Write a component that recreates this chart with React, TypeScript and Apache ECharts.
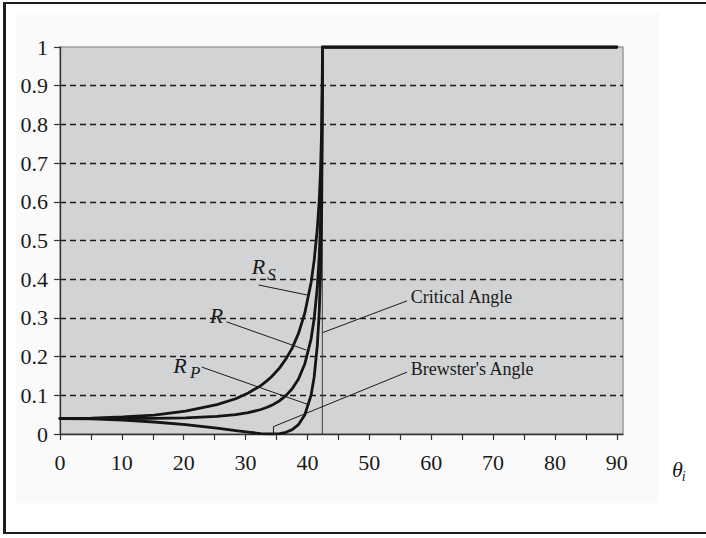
import React, { useEffect, useRef } from "react";
import * as echarts from "echarts";

// Angle of incidence (degrees)
const angle = [0, 5.07, 10.14, 15.22, 20.29, 25.36, 28.4, 30.43, 32.46, 33.48, 34.18, 34.49, 35.5, 36.52, 37.53, 38.55, 39.56, 40.58, 41.08, 41.59, 41.9, 42.1, 42.3, 42.4, 42.42, 90];
// Reflectances
const rsValues = [0.04, 0.041, 0.044, 0.049, 0.059, 0.076, 0.091, 0.106, 0.125, 0.138, 0.148, 0.153, 0.171, 0.194, 0.222, 0.26, 0.312, 0.391, 0.448, 0.531, 0.604, 0.675, 0.791, 0.93, 1, 1];
const rpValues = [0.04, 0.039, 0.036, 0.031, 0.024, 0.015, 0.0087, 0.0046, 0.0012, 0.0002, 0, 0.0001, 0.0012, 0.0045, 0.0113, 0.0243, 0.049, 0.1, 0.147, 0.229, 0.314, 0.408, 0.588, 0.85, 1, 1];
const rValues = [0.04, 0.04, 0.04, 0.0405, 0.0417, 0.0453, 0.05, 0.0552, 0.0633, 0.0691, 0.074, 0.0765, 0.0861, 0.0991, 0.1168, 0.1422, 0.1807, 0.2453, 0.2977, 0.3798, 0.4593, 0.5416, 0.6897, 0.8898, 1, 1];

const criticalAngle = 42.4;
const criticalLine = [0, 1];

const xTicks = [0, 5, 10, 15, 20, 25, 30, 35, 40, 45, 50, 55, 60, 65, 70, 75, 80, 85, 90];
const xTickLabels = [0, 10, 20, 30, 40, 50, 60, 70, 80, 90];

const SERIF = '"Liberation Serif", "Times New Roman", serif';

function pairs(xs: number[], ys: number[]) {
  return xs.map((x, i) => [x, ys[i]]);
}

export default function App() {
  const ref = useRef<HTMLDivElement>(null);

  useEffect(() => {
    if (!ref.current) return;
    const chart = echarts.init(ref.current, null, { renderer: "svg" });
    const curveStyle = { color: "#151515", width: 2.8, cap: "round" as const, join: "round" as const };
    chart.setOption({
      animation: false,
      backgroundColor: "transparent",
      grid: {
        left: 60,
        top: 47,
        width: 563,
        height: 387,
        show: true,
        backgroundColor: "#d1d3d4",
        borderColor: "#9c9c9c",
        borderWidth: 1.5,
      },
      xAxis: {
        type: "value",
        min: 0,
        max: 91,
        axisLine: { lineStyle: { color: "#333", width: 1.3 } },
        axisTick: { show: true, length: 6, customValues: xTicks, lineStyle: { color: "#333", width: 1.2 } },
        axisLabel: {
          customValues: xTickLabels,
          margin: 17,
          fontFamily: SERIF,
          fontSize: 22,
          color: "#1a1a1a",
        },
        splitLine: { show: false },
      },
      yAxis: {
        type: "value",
        min: 0,
        max: 1,
        interval: 0.1,
        axisLine: { show: true, lineStyle: { color: "#333", width: 1.3 } },
        axisTick: { show: true, length: 6, lineStyle: { color: "#333", width: 1.2 } },
        axisLabel: {
          margin: 12,
          fontFamily: SERIF,
          fontSize: 22,
          color: "#1a1a1a",
          formatter: (v: number) => String(Math.round(v * 10) / 10),
        },
        splitLine: {
          show: true,
          showMinLine: false,
          showMaxLine: false,
          lineStyle: { color: "#1a1a1a", width: 1.3, type: [6, 4] },
        },
      },
      series: [
        {
          name: "Critical",
          type: "line",
          data: criticalLine.map((v) => [criticalAngle, v]),
          symbol: "none",
          lineStyle: { color: "#3a3a3a", width: 1 },
          z: 3,
        },
        { name: "Rs", type: "line", data: pairs(angle, rsValues), symbol: "none", lineStyle: curveStyle, z: 4 },
        { name: "R", type: "line", data: pairs(angle, rValues), symbol: "none", lineStyle: curveStyle, z: 4 },
        { name: "Rp", type: "line", data: pairs(angle, rpValues), symbol: "none", lineStyle: curveStyle, z: 4 },
      ],
    });

    const P = (x: number, y: number) => chart.convertToPixel({ gridIndex: 0 }, [x, y]) as number[];
    const seg = (a: number[], b: number[]) => {
      const p1 = P(a[0], a[1]);
      const p2 = P(b[0], b[1]);
      return {
        type: "line",
        z: 20,
        shape: { x1: p1[0], y1: p1[1], x2: p2[0], y2: p2[1] },
        style: { stroke: "#1a1a1a", lineWidth: 1 },
      };
    };
    const txt = (x: number, y: number, text: string, size: number, italic: boolean) => {
      const p = P(x, y);
      return {
        type: "text",
        z: 20,
        x: p[0],
        y: p[1],
        style: {
          text,
          fontFamily: SERIF,
          fontSize: size,
          fontStyle: italic ? "italic" : "normal",
          fill: "#1a1a1a",
          align: "left",
          verticalAlign: "middle",
        },
      };
    };
    const b1 = P(56.1, 0.16);
    const b2 = P(34.5, 0.019);
    const b3 = P(34.5, 0);

    chart.setOption({
      graphic: [
        seg([32.1, 0.385], [40.0, 0.359]),
        seg([26.9, 0.29], [39.8, 0.217]),
        seg([22.9, 0.173], [40.3, 0.075]),
        seg([56.1, 0.344], [42.45, 0.262]),
        {
          type: "polyline",
          z: 20,
          shape: { points: [b1, b2, b3] },
          style: { stroke: "#1a1a1a", lineWidth: 1, fill: null },
        },
        txt(31.0, 0.434, "R", 22, true),
        txt(33.5, 0.411, "S", 17, true),
        txt(24.2, 0.305, "R", 22, true),
        txt(18.3, 0.178, "R", 22, true),
        txt(21.0, 0.158, "P", 17, true),
        txt(56.7, 0.354, "Critical Angle", 18, false),
        txt(56.7, 0.168, "Brewster's Angle", 18, false),
        txt(98.9, -0.093, "θ", 22, true),
        txt(100.5, -0.111, "i", 14, true),
      ],
    });

    return () => chart.dispose();
  }, []);

  return (
    <div style={{ position: "fixed", left: 0, top: 0, width: 706, height: 538, background: "#fff", overflow: "hidden" }}>
      <div
        style={{
          position: "absolute",
          left: 3,
          top: 2,
          width: 740,
          height: 532,
          boxSizing: "border-box",
          borderLeft: "3px solid #1e1e1e",
          borderTop: "2.5px solid #1e1e1e",
          borderBottom: "2.5px solid #1e1e1e",
        }}
      />
      <div style={{ position: "absolute", left: 16, top: 13, width: 643, height: 490, background: "#fafafa" }} />
      <div ref={ref} style={{ position: "absolute", left: 0, top: 0, width: 706, height: 538 }} />
    </div>
  );
}
